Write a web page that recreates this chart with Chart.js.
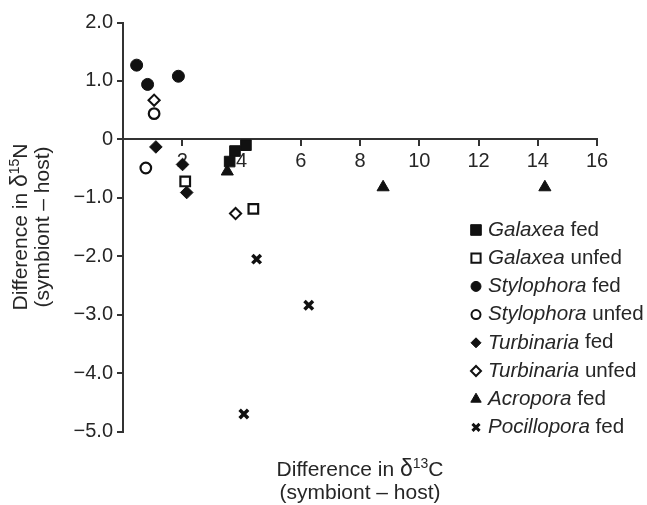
<!DOCTYPE html>
<html>
<head>
<meta charset="utf-8">
<script src="https://cdn.jsdelivr.net/npm/chart.js@4.4.1/dist/chart.umd.min.js"></script>
<style>
  html, body { margin: 0; padding: 0; background: #fff; }
</style>
</head>
<body>
<canvas id="chart" width="647" height="505"></canvas>
<script>
// data: x = difference in d13C, y = difference in d15N
const galaxeaFed = [{ x: 3.6, y: -0.38 }, { x: 3.78, y: -0.2 }, { x: 4.15, y: -0.1 }];
const galaxeaUnfed = [{ x: 2.1, y: -0.72 }, { x: 4.4, y: -1.19 }];
const stylophoraFed = [{ x: 0.46, y: 1.27 }, { x: 0.83, y: 0.94 }, { x: 1.87, y: 1.08 }];
const stylophoraUnfed = [{ x: 1.05, y: 0.44 }, { x: 0.77, y: -0.49 }];
const turbinariaFed = [{ x: 1.11, y: -0.13 }, { x: 2.01, y: -0.43 }, { x: 2.15, y: -0.91 }];
const turbinariaUnfed = [{ x: 1.05, y: 0.67 }, { x: 3.8, y: -1.27 }];
const acroporaFed = [{ x: 3.52, y: -0.55 }, { x: 8.78, y: -0.82 }, { x: 14.24, y: -0.82 }];
const pocilloporaFed = [{ x: 4.51, y: -2.05 }, { x: 6.27, y: -2.84 }, { x: 4.08, y: -4.7 }];

const genusNames = ['Galaxea', 'Galaxea', 'Stylophora', 'Stylophora', 'Turbinaria', 'Turbinaria', 'Acropora', 'Pocillopora'];
const treatments = ['fed', 'unfed', 'fed', 'unfed', 'fed', 'unfed', 'fed', 'fed'];

const xTickLabels = ['', '2', '4', '6', '8', '10', '12', '14', '16'];
const yTickLabels = ['2.0', '1.0', '0', '\u22121.0', '\u22122.0', '\u22123.0', '\u22124.0', '\u22125.0'];

// axis titles: [text, kind] where kind is normal, delta or sup
const xTitleLine1 = [['Difference in ', 'n'], ['\u03B4', 'd'], ['13', 's'], ['C', 'n']];
const yTitleLine1 = [['Difference in ', 'n'], ['\u03B4', 'd'], ['15', 's'], ['N', 'n']];
const titleLine2 = '(symbiont \u2013 host)';

const ink = '#111';
const textColor = '#262626';
const fontFamily = '"Liberation Sans", Arial, sans-serif';

const mk = (data, pointStyle, filled, radius, borderWidth) => ({
  data,
  pointStyle,
  pointRadius: radius,
  pointHoverRadius: radius,
  pointBorderWidth: borderWidth,
  pointBackgroundColor: filled ? ink : '#fff',
  pointBorderColor: ink,
  showLine: false,
});

const datasets = [
  mk(galaxeaFed, 'rect', true, 7.5, 1),
  mk(galaxeaUnfed, 'rect', false, 6.8, 2.2),
  mk(stylophoraFed, 'circle', true, 6, 1),
  mk(stylophoraUnfed, 'circle', false, 5.3, 2.2),
  mk(turbinariaFed, 'rectRot', true, 6.3, 1),
  mk(turbinariaUnfed, 'rectRot', false, 5.6, 2),
  mk(acroporaFed, 'triangle', true, 7, 1),
  mk(pocilloporaFed, 'crossRot', true, 6, 3.5),
];

const fontOf = (kind) => {
  if (kind === 's') return '14px ' + fontFamily;
  if (kind === 'd') return '23px ' + fontFamily;
  return '21px ' + fontFamily;
};

// draws one line of mixed text centred on cx, baseline at by
function drawRichLine(ctx, parts, cx, by) {
  let total = 0;
  const widths = parts.map(([t, k]) => {
    ctx.font = fontOf(k);
    const w = ctx.measureText(t).width;
    total += w;
    return w;
  });
  let x = cx - total / 2;
  parts.forEach(([t, k], i) => {
    ctx.font = fontOf(k);
    ctx.fillText(t, x, k === 's' ? by - 8 : by);
    x += widths[i];
  });
}

const axisTitles = {
  id: 'axisTitles',
  afterDraw(chart) {
    const { ctx, chartArea } = chart;
    ctx.save();
    ctx.fillStyle = textColor;
    ctx.textAlign = 'left';
    ctx.textBaseline = 'alphabetic';
    const cx = (chartArea.left + chartArea.right) / 2;
    drawRichLine(ctx, xTitleLine1, cx, 476);
    drawRichLine(ctx, [[titleLine2, 'n']], cx, 499);
    const cy = (chartArea.top + chartArea.bottom) / 2;
    ctx.translate(27, cy);
    ctx.rotate(-Math.PI / 2);
    drawRichLine(ctx, yTitleLine1, 0, 0);
    drawRichLine(ctx, [[titleLine2, 'n']], 0, 22);
    ctx.restore();
  },
};

// legend with italic genus names, drawn on the right of the plot
const legendSizes = [7.5, 6.5, 5, 4.5, 5, 5, 6, 5];
const speciesLegend = {
  id: 'speciesLegend',
  afterDatasetsDraw(chart) {
    const ctx = chart.ctx;
    const mx = 476;
    const tx = 488;
    ctx.save();
    genusNames.forEach((genus, i) => {
      const ds = chart.data.datasets[i];
      const y = 230 + i * 28.2;
      ctx.fillStyle = ds.pointBackgroundColor;
      ctx.strokeStyle = ink;
      ctx.lineWidth = ds.pointStyle === 'crossRot' ? 3 : (ds.pointBackgroundColor === '#fff' ? 2 : 1);
      Chart.helpers.drawPoint(ctx, {
        pointStyle: ds.pointStyle,
        radius: legendSizes[i],
        borderWidth: ctx.lineWidth,
        rotation: 0,
      }, mx, y);
      ctx.fillStyle = textColor;
      ctx.textBaseline = 'middle';
      ctx.textAlign = 'left';
      ctx.font = 'italic 20.6px ' + fontFamily;
      ctx.fillText(genus, tx, y);
      const w = ctx.measureText(genus).width;
      ctx.font = '20.6px ' + fontFamily;
      ctx.fillText(' ' + treatments[i], tx + w, y);
    });
    ctx.restore();
  },
};

new Chart(document.getElementById('chart'), {
  type: 'scatter',
  data: { datasets },
  options: {
    responsive: false,
    animation: false,
    events: [],
    layout: { padding: { top: 22.5, right: 50, left: 0, bottom: 73.5 } },
    plugins: {
      legend: { display: false },
      tooltip: { enabled: false },
    },
    scales: {
      x: {
        type: 'linear',
        min: 0,
        max: 16,
        position: { y: 0 },
        grid: { display: true, drawOnChartArea: false, drawTicks: true, tickLength: 6, color: '#333', lineWidth: 2 },
        border: { display: true, color: '#333', width: 2 },
        ticks: {
          stepSize: 2,
          padding: 4,
          color: textColor,
          font: { family: fontFamily, size: 20 },
          maxRotation: 0,
          callback: (v) => xTickLabels[v / 2],
        },
      },
      y: {
        type: 'linear',
        min: -5,
        max: 2,
        position: 'left',
        afterFit: (scale) => { scale.width = 123; },
        grid: { display: true, drawOnChartArea: false, drawTicks: true, tickLength: 6, color: '#333', lineWidth: 2 },
        border: { display: true, color: '#333', width: 2 },
        ticks: {
          stepSize: 1,
          padding: 4,
          color: textColor,
          font: { family: fontFamily, size: 20 },
          callback: (v) => yTickLabels[2 - v],
        },
      },
    },
  },
  plugins: [speciesLegend, axisTitles],
});
</script>
</body>
</html>
